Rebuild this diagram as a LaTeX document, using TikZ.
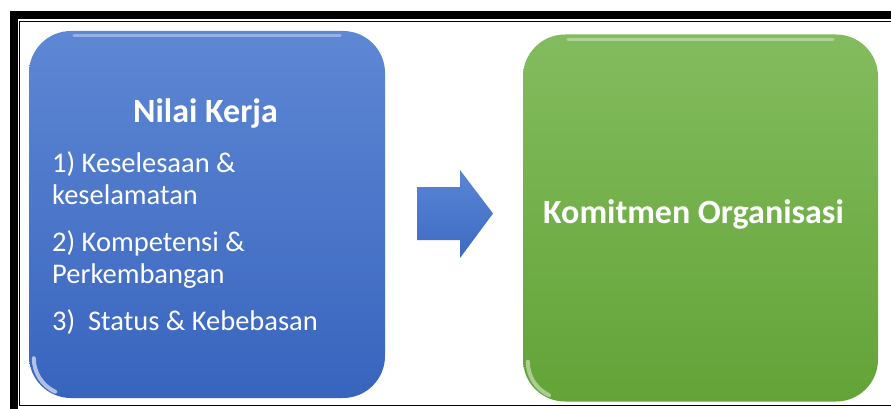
\documentclass[tikz,border=0pt]{standalone}
\usepackage{fontspec}
\setmainfont{Carlito}
\begin{document}
\begin{tikzpicture}[x=1pt,y=-1pt,
  framebar/.style={fill=black},
  bluebox/.style={rounded corners=42pt, top color=bluetop, bottom color=bluebot, draw=none, minimum width=356pt, minimum height=367pt, inner sep=0pt},
  greenbox/.style={rounded corners=42pt, top color=greentop, bottom color=greenbot, draw=none, minimum width=355pt, minimum height=367pt, inner sep=0pt},
  titletext/.style={text=white, font=\bfseries\fontsize{34}{40}\selectfont, inner sep=0pt},
  listtext/.style={text=white, font=\fontsize{28.5}{32}\selectfont, align=left, inner sep=0pt},
  shine/.style={white, opacity=0.35, line width=3pt, line cap=round},
  cornershine/.style={white, opacity=0.6, line width=4pt, line cap=round}
]
\definecolor{bluetop}{HTML}{5E88D4}
\definecolor{bluebot}{HTML}{3864BE}
\definecolor{greentop}{HTML}{83BC5E}
\definecolor{greenbot}{HTML}{63A337}
\definecolor{arrowtop}{HTML}{5A86D6}
\definecolor{arrowbot}{HTML}{3D69C2}
\useasboundingbox (0,0) rectangle (891,409);
\fill[white] (0,0) rectangle (891,409);
% frame
\fill[framebar] (10,11) rectangle (891,19);
\fill[framebar] (10,11) rectangle (17.5,409);
\fill[framebar] (18.5,21) rectangle (891,22.3);
\fill[framebar] (18.5,21) rectangle (20,406);
\fill[framebar] (18.5,404.5) rectangle (891,406.3);
% boxes
\node[bluebox] (nk) at (207,214.5) {};
\node[greenbox] (ko) at (700.5,218) {};
% highlights
\draw[shine] ([xshift=45pt,yshift=-5pt]nk.north west) -- ([xshift=-45pt,yshift=-5pt]nk.north east);
\draw[shine] ([xshift=45pt,yshift=-5pt]ko.north west) -- ([xshift=-45pt,yshift=-5pt]ko.north east);
\draw[cornershine] ([xshift=5pt,yshift=40pt]nk.south west) arc[start angle=180, end angle=245, radius=37pt];
\draw[cornershine, opacity=0.45] ([xshift=5pt,yshift=40pt]ko.south west) arc[start angle=180, end angle=245, radius=37pt];
% arrow
\coordinate (a1) at (417,187);
\coordinate (a2) at (460,187);
\coordinate (a3) at (460,170);
\coordinate (tip) at (493,213.5);
\coordinate (a5) at (460,258);
\coordinate (a6) at (460,240);
\coordinate (a7) at (417,240);
\shade[top color=arrowtop, bottom color=arrowbot] (a1) -- (a2) -- (a3) -- (tip) -- (a5) -- (a6) -- (a7) -- cycle;
\draw[white, opacity=0.35, line width=1.5pt] ([yshift=2pt]a1) -- ([yshift=2pt,xshift=-1pt]a2);
% texts
\node[titletext, anchor=base] (title) at (205.5,123) {Nilai Kerja};
\node[listtext, anchor=base west] (list) at (52,330) {1) Keselesaan \&\\keselamatan\\[15pt]2) Kompetensi \&\\Perkembangan\\[15pt]3)\ \ Status \& Kebebasan};
\node[titletext, anchor=base] (kom) at (693.5,223) {Komitmen Organisasi};
\end{tikzpicture}
\end{document}
